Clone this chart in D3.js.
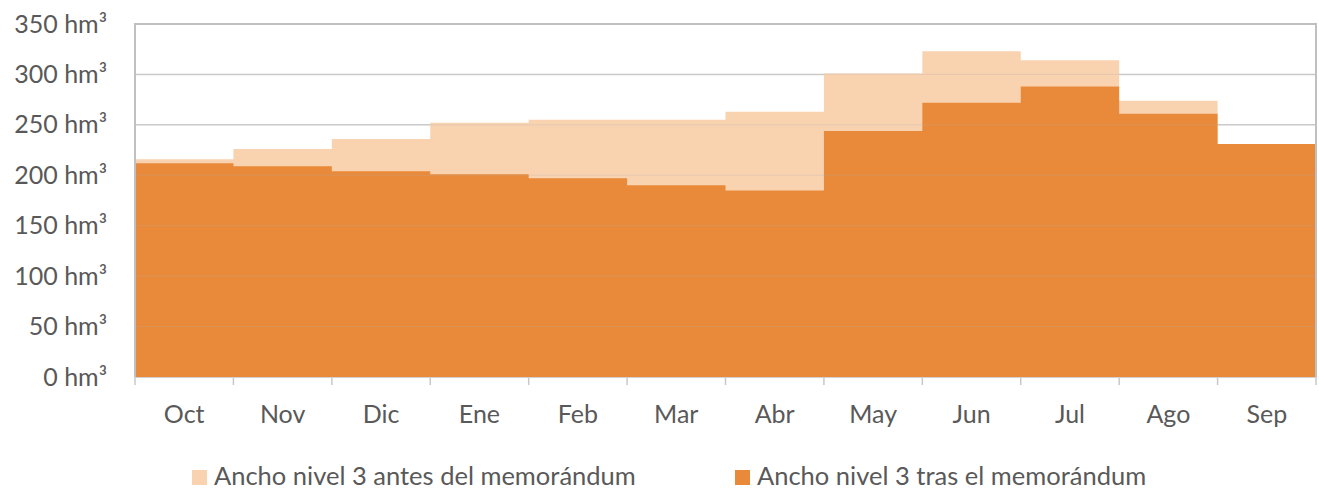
<!DOCTYPE html>
<html>
<head>
<meta charset="utf-8">
<script src="https://cdn.jsdelivr.net/npm/d3@7"></script>
<style>
  body { margin: 0; background: #fff; }
  text { font-family: Lato, "Open Sans", sans-serif; fill: #595959; }
</style>
</head>
<body>
<svg id="chart" width="1319" height="491"></svg>
<script>
// data
var months = ["Oct", "Nov", "Dic", "Ene", "Feb", "Mar", "Abr", "May", "Jun", "Jul", "Ago", "Sep"];
var antes = [216, 226, 236, 252, 255, 255, 263, 301, 323, 314, 274, 231];
var tras = [212, 209, 204, 201, 197, 190, 185, 244, 272, 288, 261, 231];
var yTicks = [0, 50, 100, 150, 200, 250, 300, 350];
var legendNames = ["Ancho nivel 3 antes del memorándum", "Ancho nivel 3 tras el memorándum"];
var colors = ["#F9D2B0", "#E98A3A"];

var plotLeft = 135, plotRight = 1316, plotTop = 24, plotBottom = 377;

var svg = d3.select("#chart");

var x = d3.scaleBand()
    .domain(months)
    .range([plotLeft, plotRight])
    .padding(0);

var y = d3.scaleLinear()
    .domain([0, 350])
    .range([plotBottom, plotTop]);

//gridlines below the areas
svg.append("g")
    .selectAll("line")
    .data(yTicks.slice(1, -1))
    .enter().append("line")
    .attr("x1", plotLeft).attr("x2", plotRight)
    .attr("y1", function(d) { return y(d); })
    .attr("y2", function(d) { return y(d); })
    .attr("stroke", "#d0d0d0")
    .attr("stroke-width", 1.5);

// step areas, one point per month plus the closing edge
function stepPoints(vals) {
  var pts = months.map(function(m, i) { return [x(m), vals[i]]; });
  pts.push([plotRight, vals[vals.length - 1]]);
  return pts;
}

var area = d3.area()
    .curve(d3.curveStepAfter)
    .x(function(d) { return d[0]; })
    .y0(y(0))
    .y1(function(d) { return y(d[1]); });

svg.append("path")
    .datum(stepPoints(antes))
    .attr("d", area)
    .attr("fill", colors[0]);

svg.append("path")
    .datum(stepPoints(tras))
    .attr("d", area)
    .attr("fill", colors[1]);

//faint gridlines showing through the fill
svg.append("g")
    .selectAll("line")
    .data(yTicks.slice(1, -1))
    .enter().append("line")
    .attr("x1", plotLeft).attr("x2", plotRight)
    .attr("y1", function(d) { return y(d); })
    .attr("y2", function(d) { return y(d); })
    .attr("stroke", "#b0b0b0")
    .attr("stroke-width", 1)
    .attr("opacity", 0.25);

// plot border (top, left, right)
svg.append("path")
    .attr("d", "M" + plotLeft + "," + plotBottom + "V" + plotTop + "H" + plotRight + "V" + plotBottom)
    .attr("fill", "none")
    .attr("stroke", "#c0c0c0")
    .attr("stroke-width", 2);

// x axis
var xAxis = d3.axisBottom(x).tickSize(0).tickPadding(0);
var gx = svg.append("g")
    .attr("transform", "translate(0," + plotBottom + ")")
    .call(xAxis);
gx.select(".domain").remove();
gx.selectAll("text")
    .attr("y", 46)
    .attr("dy", 0)
    .style("font-size", "25px")
    .style("fill", "#595959");

// tick marks at the month boundaries
var edges = months.map(function(m) { return x(m); }).concat([plotRight]);
svg.append("g")
    .selectAll("line")
    .data(edges)
    .enter().append("line")
    .attr("x1", function(d) { return d; })
    .attr("x2", function(d) { return d; })
    .attr("y1", plotBottom)
    .attr("y2", plotBottom + 8)
    .attr("stroke", "#c8c8c8")
    .attr("stroke-width", 1.5);
svg.append("line")
    .attr("x1", plotLeft).attr("x2", plotRight)
    .attr("y1", plotBottom + 0.5).attr("y2", plotBottom + 0.5)
    .attr("stroke", "#d0d0d0")
    .attr("stroke-width", 1);

// y axis labels
var yAxis = d3.axisLeft(y)
    .tickValues(yTicks)
    .tickSize(0)
    .tickPadding(28)
    .tickFormat(function(d) { return d + " hm\u00b3"; });
var gy = svg.append("g")
    .attr("transform", "translate(" + plotLeft + ",0)")
    .call(yAxis);
gy.select(".domain").remove();
gy.selectAll("text")
    .style("font-size", "25px")
    .style("fill", "#595959");

// legend
var legendX = [192, 735];
var leg = svg.append("g")
    .selectAll("g")
    .data(legendNames)
    .enter().append("g")
    .attr("transform", function(d, i) { return "translate(" + legendX[i] + ",470)"; });
leg.append("rect")
    .attr("width", 15)
    .attr("height", 15)
    .attr("fill", function(d, i) { return colors[i]; });
leg.append("text")
    .attr("x", 22)
    .attr("y", 15)
    .style("font-size", "25.5px")
    .text(function(d) { return d; });
</script>
</body>
</html>
